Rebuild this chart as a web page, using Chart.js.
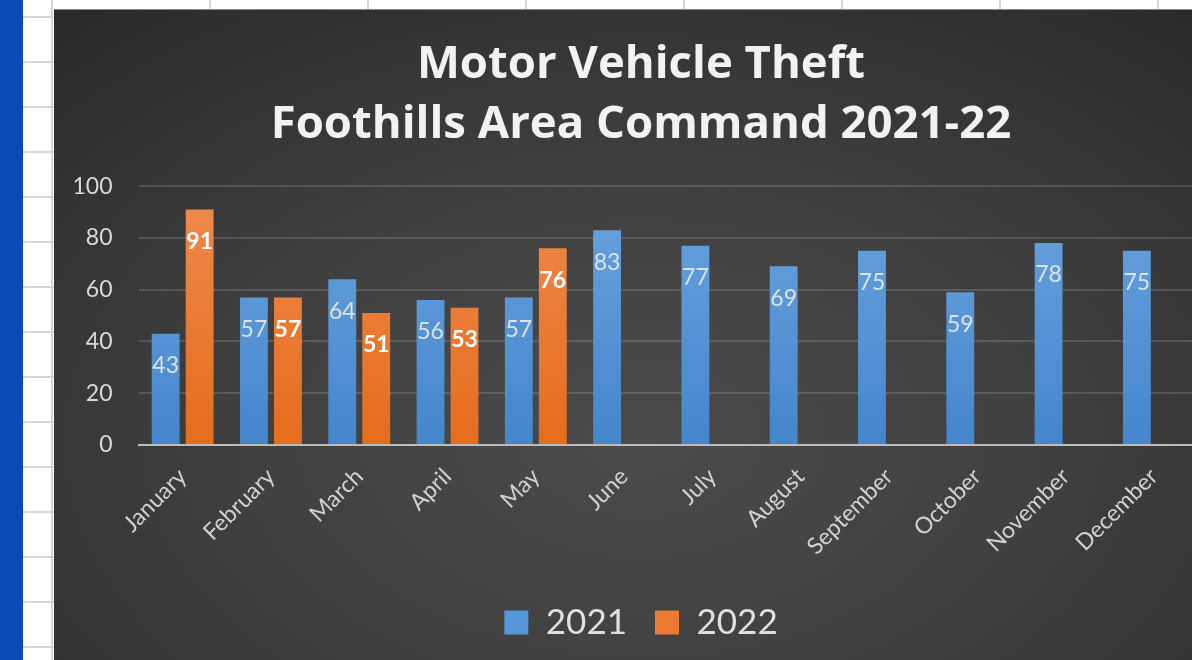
<!DOCTYPE html>
<html>
<head>
<meta charset="utf-8">
<script src="https://cdn.jsdelivr.net/npm/chart.js@4"></script>
<style>
  html, body { margin: 0; padding: 0; width: 1192px; height: 660px; overflow: hidden; background: #fff; }
  #sheet {
    position: absolute; left: 0; top: 0; width: 1192px; height: 660px;
    background-image:
      linear-gradient(to bottom, #d6d6d6 0 2px, transparent 2px),
      linear-gradient(to right, #d6d6d6 0 2px, transparent 2px);
    background-size: 100% 45px, 158px 100%;
    background-position: 0 16px, 51px 0;
  }
  #strip { position: absolute; left: 0; top: 0; width: 23px; height: 660px; background: #0a4bb4; }
  #box {
    position: absolute; left: 54px; top: 10px; width: 1174px; height: 660px;
    background: radial-gradient(ellipse 75% 85% at 50% 65%, #4b4b4b 0%, #404040 45%, #2a2a2a 100%);
    box-shadow: 0 -1px 0 #888;
  }
</style>
</head>
<body>
<div id="sheet"></div>
<div id="strip"></div>
<div id="box"><canvas id="chart" width="1174" height="658"></canvas></div>
<script>
const months = ['January', 'February', 'March', 'April', 'May', 'June', 'July',
  'August', 'September', 'October', 'November', 'December'];
const theft2021 = [43, 57, 64, 56, 57, 83, 77, 69, 75, 59, 78, 75];
const theft2022 = [91, 57, 51, 53, 76, null, null, null, null, null, null, null];
const yTicks = [0, 20, 40, 60, 80, 100];

// vertical gradient for bars, lighter at top
function barFill(top, bottom) {
  return (ctx) => {
    const area = ctx.chart.chartArea;
    if (!area) return bottom;
    const g = ctx.chart.ctx.createLinearGradient(0, area.top, 0, area.bottom);
    g.addColorStop(0, top);
    g.addColorStop(1, bottom);
    return g;
  };
}

// value labels just inside the bar top
const barLabels = {
  id: 'barLabels',
  afterDatasetsDraw(chart) {
    const ctx = chart.ctx;
    ctx.save();
    ctx.textAlign = 'center';
    ctx.textBaseline = 'middle';
    chart.data.datasets.forEach((ds, i) => {
      const meta = chart.getDatasetMeta(i);
      ctx.font = (i === 1 ? 'bold ' : '') + '23px Lato';
      ctx.fillStyle = i === 1 ? '#ffffff' : '#dbe3ec';
      meta.data.forEach((bar, j) => {
        const v = ds.data[j];
        if (v == null) return;
        ctx.fillText(String(v), bar.x, bar.y + 32);
      });
    });
    ctx.restore();
  }
};

new Chart(document.getElementById('chart'), {
  type: 'bar',
  data: {
    labels: months,
    datasets: [
      {
        label: '2021',
        data: theft2021,
        backgroundColor: barFill('#6aa4de', '#4486cc'),
        borderWidth: 0,
        categoryPercentage: 0.77,
        barPercentage: 0.82
      },
      {
        label: '2022',
        data: theft2022,
        backgroundColor: barFill('#ef8a4e', '#e56d1c'),
        borderWidth: 0,
        categoryPercentage: 0.77,
        barPercentage: 0.82
      }
    ]
  },
  options: {
    responsive: false,
    animation: false,
    layout: { padding: { left: 0, right: 0, top: 0, bottom: 18 } },
    scales: {
      x: {
        grid: { display: false },
        border: { display: true, color: '#bdbdbd', width: 2 },
        ticks: {
          color: '#d2d2d2',
          font: { family: 'Lato', size: 23 },
          maxRotation: 45,
          minRotation: 45,
          padding: 10
        },
        afterFit: (axis) => { axis.height = 132; }
      },
      y: {
        min: 0,
        max: 100,
        afterBuildTicks: (axis) => { axis.ticks = yTicks.map(v => ({ value: v })); },
        afterFit: (axis) => { axis.width = 84.5; },
        grid: { color: 'rgba(255,255,255,0.14)', lineWidth: 2, drawTicks: false },
        border: { display: false },
        ticks: {
          color: '#d9d9d9',
          font: { family: 'Lato', size: 23 },
          padding: 26
        }
      },
      // empty spacer on the right so the title stays centred on the whole chart box
      spacer: {
        type: 'linear',
        position: 'right',
        grid: { display: false },
        border: { display: false },
        ticks: { display: false },
        afterFit: (axis) => { axis.width = 30; }
      }
    },
    plugins: {
      title: {
        display: true,
        text: ['Motor Vehicle Theft', 'Foothills Area Command 2021-22'],
        color: '#f2f2f2',
        font: { family: 'Open Sans', size: 45.5, weight: 'bold', lineHeight: 1.32 },
        padding: { top: 25, bottom: 31 }
      },
      legend: {
        position: 'bottom',
        labels: {
          color: '#e0e0e0',
          font: { family: 'Lato', size: 35 },
          boxWidth: 24,
          boxHeight: 24,
          padding: 28,
          generateLabels: (chart) => chart.data.datasets.map((ds, i) => ({
            text: ds.label,
            fillStyle: i === 0 ? '#5596d8' : '#ec7a32',
            strokeStyle: i === 0 ? '#5596d8' : '#ec7a32',
            lineWidth: 0,
            fontColor: '#e0e0e0',
            datasetIndex: i
          }))
        }
      },
      tooltip: { enabled: false }
    }
  },
  plugins: [barLabels]
});
</script>
</body>
</html>
